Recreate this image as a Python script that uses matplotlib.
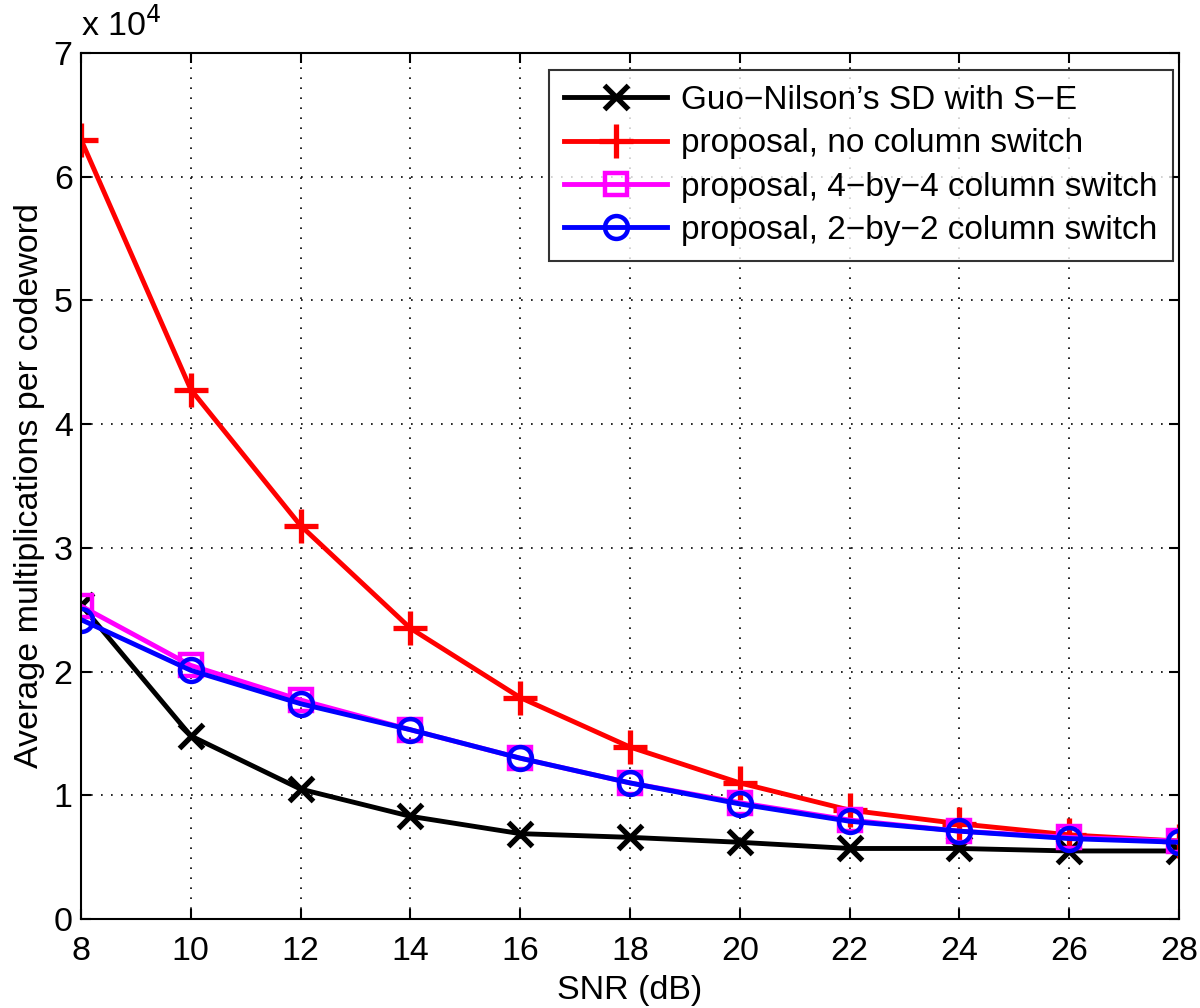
import matplotlib.pyplot as plt
from matplotlib.ticker import FuncFormatter

plt.rcParams['font.family'] = ['Liberation Sans', 'DejaVu Sans']

snr = [8, 10, 12, 14, 16, 18, 20, 22, 24, 26, 28]
guo_nilson = [25400, 14800, 10500, 8300, 6900, 6600, 6200, 5700, 5700, 5500, 5500]
no_switch = [63000, 42800, 31800, 23500, 17900, 13900, 11000, 8800, 7700, 6800, 6300]
switch_4x4 = [25300, 20500, 17700, 15300, 13000, 11000, 9400, 8000, 7100, 6600, 6300]
switch_2x2 = [24200, 20100, 17400, 15300, 13000, 11000, 9300, 7900, 7100, 6500, 6200]

labels = ["Guo\u2212Nilson\u2019s SD with S\u2212E",
          "proposal, no column switch",
          "proposal, 4\u2212by\u22124 column switch",
          "proposal, 2\u2212by\u22122 column switch"]

fig = plt.figure(figsize=(12, 10.08), dpi=100)
ax = fig.add_axes([0.0675, 0.0883, 0.915, 0.8591])

ax.plot(snr, guo_nilson, color='black', marker='x', lw=3.5, ms=17, mew=3.8, label=labels[0])
ax.plot(snr, no_switch, color='red', marker='+', lw=3.5, ms=24, mew=3.8, label=labels[1])
ax.plot(snr, switch_4x4, color='magenta', marker='s', lw=3.5, ms=16, mew=3.2, mfc='none', label=labels[2])
ax.plot(snr, switch_2x2, color='blue', marker='o', lw=3.5, ms=16.5, mew=3.2, mfc='none', label=labels[3])

ax.set_xlim(8, 28)
ax.set_ylim(0, 70000)
ax.set_xticks(snr)
ax.set_yticks(range(0, 70001, 10000))
ax.yaxis.set_major_formatter(FuncFormatter(lambda v, p: f"{v / 1e4:g}"))
ax.tick_params(direction='in', top=True, right=True, labelsize=24.5, length=7, width=1.5)
ax.tick_params(axis='x', pad=12)
ax.tick_params(axis='y', pad=6)
for s in ax.spines.values():
    s.set_linewidth(1.5)
ax.grid(True, color='black', linestyle=(0, (1, 5)), linewidth=1.2)

ax.text(0, 1.012, "x 10$^{4}$", transform=ax.transAxes, fontsize=24.5, ha='left', va='bottom')

ax.set_xlabel("SNR (dB)", fontsize=24.5, labelpad=6)
ax.set_ylabel("Average multiplications per codeword", fontsize=24.5, labelpad=6)

leg = ax.legend(loc='upper right', bbox_to_anchor=(0.9945, 0.9804), fontsize=24,
                frameon=True, fancybox=False, edgecolor='black', handlelength=3.1,
                borderaxespad=0, labelspacing=0.37, handletextpad=0.42, borderpad=0.45)
leg.get_frame().set_linewidth(1.5)

plt.savefig("out.png", dpi=100)
